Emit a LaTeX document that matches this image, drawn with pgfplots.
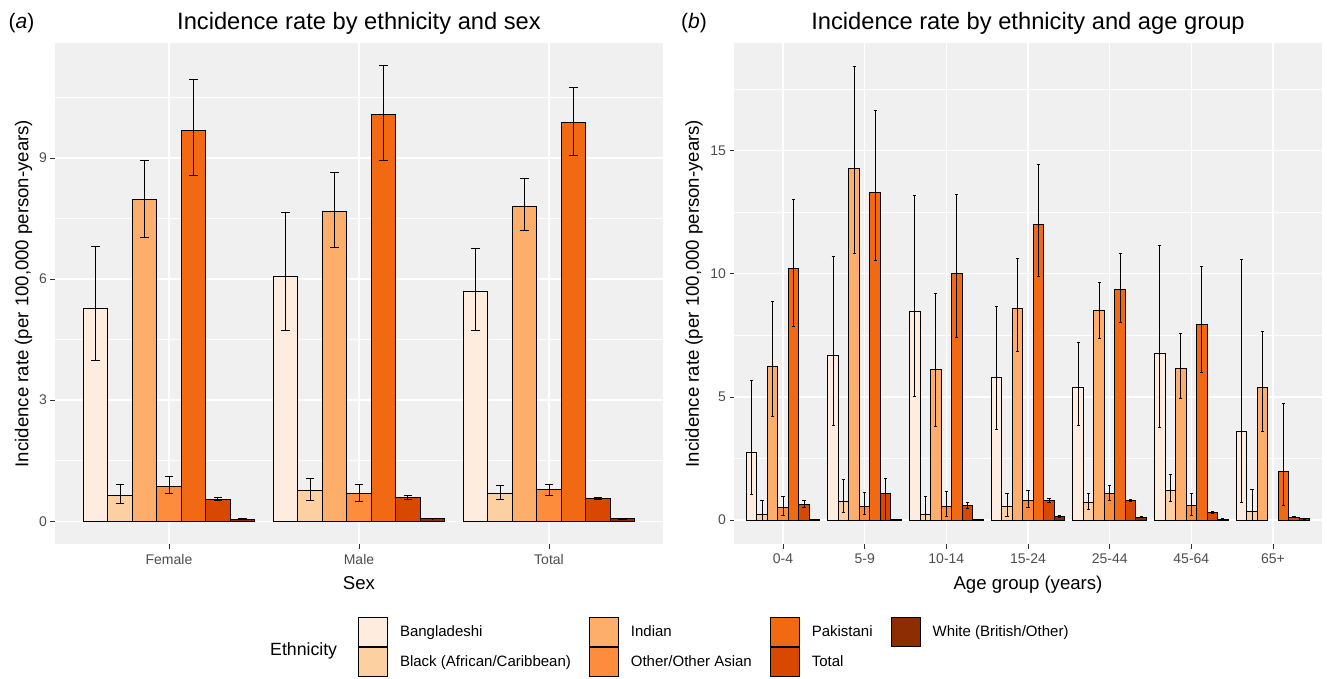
\documentclass[border=0pt]{standalone}
\usepackage{pgfplots}
\pgfplotsset{compat=1.18}
\usepackage{pgfplotstable}
\usepackage{fontspec}
\setmainfont{Liberation Sans}

\definecolor{cB}{HTML}{FEEDDE}
\definecolor{cK}{HTML}{FDD0A2}
\definecolor{cI}{HTML}{FDAE6B}
\definecolor{cO}{HTML}{FD8D3C}
\definecolor{cP}{HTML}{F16913}
\definecolor{cT}{HTML}{D94801}
\definecolor{cW}{HTML}{8C2D04}
\definecolor{panelbg}{HTML}{F0F0F0}
\definecolor{grey30}{HTML}{4D4D4D}
\definecolor{grey20}{HTML}{333333}

% Panel (a): by sex (x: 1 Female, 2 Male, 3 Total)
\pgfplotstableread{
x B Blo Bhi K Klo Khi I Ilo Ihi O Olo Ohi P Plo Phi T Tlo Thi W Wlo Whi
1 5.26 3.98 6.81 0.64 0.43 0.92 7.97 7.04 8.95 0.86 0.69 1.10 9.69 8.57 10.94 0.545 0.51 0.58 0.05 0.045 0.055
2 6.07 4.73 7.66 0.76 0.51 1.06 7.67 6.78 8.63 0.69 0.50 0.91 10.07 8.93 11.29 0.585 0.55 0.63 0.06 0.055 0.065
3 5.69 4.73 6.76 0.69 0.53 0.88 7.80 7.20 8.48 0.78 0.63 0.92 9.88 9.07 10.75 0.56 0.54 0.58 0.055 0.05 0.06
}\sexdata

% Panel (b): by age group (x: 1..7 = 0-4 ... 65+)
\pgfplotstableread{
x B Blo Bhi K Klo Khi I Ilo Ihi O Olo Ohi P Plo Phi T Tlo Thi W Wlo Whi
1 2.73 1.04 5.65 0.22 0 0.80 6.24 4.22 8.88 0.50 0.19 0.95 10.21 7.87 13.00 0.65 0.50 0.80 0.02 0.01 0.03
2 6.69 3.85 10.70 0.75 0.30 1.65 14.26 10.81 18.43 0.55 0.23 1.11 13.31 10.53 16.61 1.07 0 1.69 0.02 0.01 0.03
3 8.45 5.03 13.18 0.23 0 0.97 6.11 3.81 9.18 0.55 0.16 1.16 10.03 7.43 13.20 0.60 0.47 0.72 0.02 0.01 0.03
4 5.80 3.68 8.68 0.56 0.15 1.10 8.61 6.85 10.61 0.80 0.50 1.22 12.01 9.89 14.43 0.80 0.72 0.88 0.14 0.11 0.17
5 5.37 3.84 7.23 0.72 0.42 1.10 8.50 7.39 9.66 1.07 0.80 1.42 9.38 8.03 10.84 0.79 0.75 0.85 0.12 0.10 0.14
6 6.76 3.74 11.13 1.22 0.75 1.85 6.14 4.92 7.57 0.61 0.20 1.10 7.96 6.00 10.30 0.30 0.26 0.35 0.04 0.03 0.05
7 3.61 0.70 10.57 0.34 0 1.24 5.39 3.61 7.66 nan nan nan 1.99 0.61 4.72 0.12 0.10 0.14 0.05 0.03 0.07
}\agedata

% #1 table, #2 column, #3 dodge offset (axis units), #4 colour, #5 cap half-width
\newcommand{\ethbars}[5]{%
\addplot[ybar, bar width=0.128571, bar shift=0pt, fill=#4, draw=black, line width=1pt, forget plot,
  error bars/.cd, y dir=both, y explicit,
  error bar style={line width=1pt, draw=black, fill=none},
  error mark options={rotate=90, mark size=#5, line width=1pt, draw=black, fill=none}]
  table[x expr=\thisrow{x}+#3, y=#2, y error plus expr=\thisrow{#2hi}-\thisrow{#2}, y error minus expr=\thisrow{#2}-\thisrow{#2lo}] {#1};
}

\pgfplotsset{
  ggpanel/.style={
    scale only axis, anchor=south west,
    axis background/.style={fill=panelbg},
    axis line style={draw=none},
    tick align=outside, major tick length=4.5pt, minor tick length=0pt,
    tick style={grey20, line width=0.9pt},
    xtick pos=bottom, ytick pos=left,
    ymajorgrids, yminorgrids, xmajorgrids,
    major grid style={white, line width=1.4pt},
    minor grid style={white, line width=0.7pt},
    ticklabel style={font=\fontsize{14}{16}\selectfont, text=grey30},
    xticklabel style={yshift=-2pt},
    /pgf/number format/assume math mode=true,
    title style={font=\fontsize{23.7}{26}\selectfont, at={(axis description cs:0.5,1)}, anchor=base, yshift=7.7pt, inner sep=0pt},
    xlabel style={font=\fontsize{18.6}{21}\selectfont, at={(axis description cs:0.5,0)}, anchor=base, yshift=-45pt, inner sep=0pt},
    ylabel style={font=\fontsize{18.6}{21}\selectfont, anchor=center, inner sep=0pt},
  }
}

\begin{document}
\begin{tikzpicture}
\useasboundingbox (0pt,0pt) rectangle (1333pt,678pt);

% ---------- panel (a) ----------
\begin{axis}[ggpanel,
  at={(55pt,134pt)}, width=608pt, height=501pt,
  xmin=0.4, xmax=3.6, ymin=-0.565, ymax=11.85,
  xtick={1,2,3}, xticklabels={Female,Male,Total},
  ytick={0,3,6,9}, minor ytick={1.5,4.5,7.5,10.5},
  title={Incidence rate by ethnicity and sex},
  xlabel={Sex},
  ylabel={Incidence rate (per 100,000 person-years)},
  ylabel style={at={(axis description cs:-0.0518,0.5)}},
  legend columns=4,
  legend cell align=left,
  legend image code/.code={\draw[#1] (0pt,-14.5pt) rectangle (29pt,14.5pt);},
  legend style={at={(axis description cs:0,0)}, anchor=north west, xshift=303pt, yshift=-72.5pt,
    draw=none, fill=none, inner sep=0pt, outer sep=0pt, row sep=0pt,
    font=\fontsize{15}{17}\selectfont,
    nodes={inner sep=0pt},
    /tikz/every odd column/.append style={column sep=12pt},
    /tikz/every even column/.append style={column sep=18pt}},
]
\ethbars{\sexdata}{B}{-0.385714}{cB}{4.3pt}
\ethbars{\sexdata}{K}{-0.257143}{cK}{4.3pt}
\ethbars{\sexdata}{I}{-0.128571}{cI}{4.3pt}
\ethbars{\sexdata}{O}{0}{cO}{4.3pt}
\ethbars{\sexdata}{P}{0.128571}{cP}{4.3pt}
\ethbars{\sexdata}{T}{0.257143}{cT}{4.3pt}
\ethbars{\sexdata}{W}{0.385714}{cW}{4.3pt}
\addlegendimage{fill=cB, draw=black, line width=1pt}\addlegendentry{Bangladeshi}
\addlegendimage{fill=cI, draw=black, line width=1pt}\addlegendentry{Indian}
\addlegendimage{fill=cP, draw=black, line width=1pt}\addlegendentry{Pakistani}
\addlegendimage{fill=cW, draw=black, line width=1pt}\addlegendentry{White (British/Other)}
\addlegendimage{fill=cK, draw=black, line width=1pt}\addlegendentry{Black (African/Caribbean)}
\addlegendimage{fill=cO, draw=black, line width=1pt}\addlegendentry{Other/Other Asian}
\addlegendimage{fill=cT, draw=black, line width=1pt}\addlegendentry{Total}
\end{axis}

% ---------- panel (b) ----------
\begin{axis}[ggpanel,
  at={(734pt,134pt)}, width=588pt, height=501pt,
  xmin=0.4, xmax=7.6, ymin=-0.97, ymax=19.37,
  xtick={1,2,3,4,5,6,7}, xticklabels={0-4,5-9,10-14,15-24,25-44,45-64,65+},
  ytick={0,5,10,15}, minor ytick={2.5,7.5,12.5,17.5},
  title={Incidence rate by ethnicity and age group},
  xlabel={Age group (years)},
  ylabel={Incidence rate (per 100,000 person-years)},
  ylabel style={at={(axis description cs:-0.068,0.5)}},
]
\ethbars{\agedata}{B}{-0.385714}{cB}{1.6pt}
\ethbars{\agedata}{K}{-0.257143}{cK}{1.6pt}
\ethbars{\agedata}{I}{-0.128571}{cI}{1.6pt}
\ethbars{\agedata}{O}{0}{cO}{1.6pt}
\ethbars{\agedata}{P}{0.128571}{cP}{1.6pt}
\ethbars{\agedata}{T}{0.257143}{cT}{1.6pt}
\ethbars{\agedata}{W}{0.385714}{cW}{1.6pt}
\end{axis}

% panel tags and legend title
\node[anchor=base west, inner sep=0pt, font=\fontsize{21}{24}\selectfont] at (8.5pt,649.7pt) {(\textit{a})};
\node[anchor=base west, inner sep=0pt, font=\fontsize{21}{24}\selectfont] at (681pt,649.7pt) {(\textit{b})};
\node[anchor=base west, inner sep=0pt, font=\fontsize{17.7}{20}\selectfont] at (270pt,22.3pt) {Ethnicity};
\end{tikzpicture}
\end{document}
